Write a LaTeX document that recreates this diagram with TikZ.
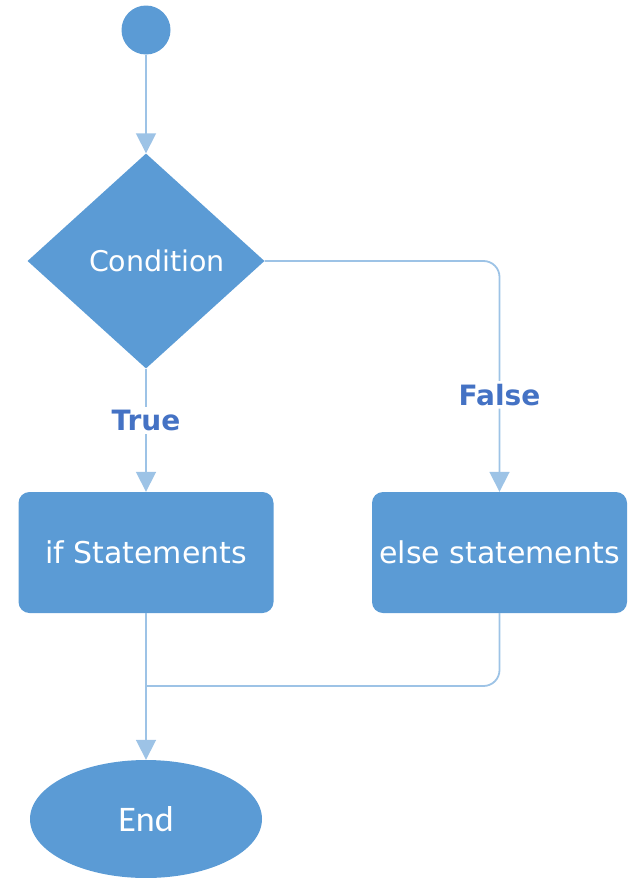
\documentclass[tikz,border=0pt]{standalone}
\usepackage{fontspec}
\setmainfont{DejaVu Sans}
\newfontfamily\endfont{Carlito}
\usetikzlibrary{shapes.geometric,arrows.meta}
\definecolor{boxblue}{HTML}{5B9BD5}
\definecolor{linkblue}{HTML}{9DC3E6}
\definecolor{labelblue}{HTML}{4472C4}
\begin{document}
\begin{tikzpicture}[x=1pt,y=-1pt,
  shapebox/.style={fill=boxblue,draw=none,text=white,inner sep=0pt},
  stepbox/.style={shapebox,rectangle,rounded corners=11pt,minimum width=255pt,minimum height=121pt,font=\fontsize{30}{34}\selectfont},
  link/.style={draw=linkblue,line width=1.8pt,rounded corners=16pt},
  arrowlink/.style={link,-{Triangle[width=20pt,length=20pt]}},
  lbl/.style={fill=white,text=labelblue,font=\fontsize{28}{32}\selectfont\bfseries,inner sep=3pt}]
\useasboundingbox (0,0) rectangle (641,878);

% start, decision, branches, end
\node[shapebox,circle,minimum size=49pt] (start) at (146,30) {};
\node[shapebox,diamond,minimum width=237pt,minimum height=215pt,font=\fontsize{28.5}{32}\selectfont] (cond) at (146,261) {\hspace*{22pt}Condition};
\node[stepbox] (ifst) at (146,552.5) {if Statements};
\node[stepbox] (elsest) at (499.5,552.5) {else statements};
\node[shapebox,ellipse,minimum width=232pt,minimum height=118pt,font=\endfont\fontsize{36}{40}\selectfont] (finish) at (146,819) {End};

% connectors
\draw[arrowlink] (start) -- (cond.north);
\draw[arrowlink] (cond.south) -- node[lbl,pos=0.42] {True} (ifst.north);
\draw[arrowlink] (cond.east) -| node[lbl,pos=0.79] {False} (elsest.north);
\coordinate (merge) at (ifst.south |- 0,686);
\draw[link] (elsest.south) |- (merge);
\draw[arrowlink] (ifst.south) -- (finish.north);
\end{tikzpicture}
\end{document}
